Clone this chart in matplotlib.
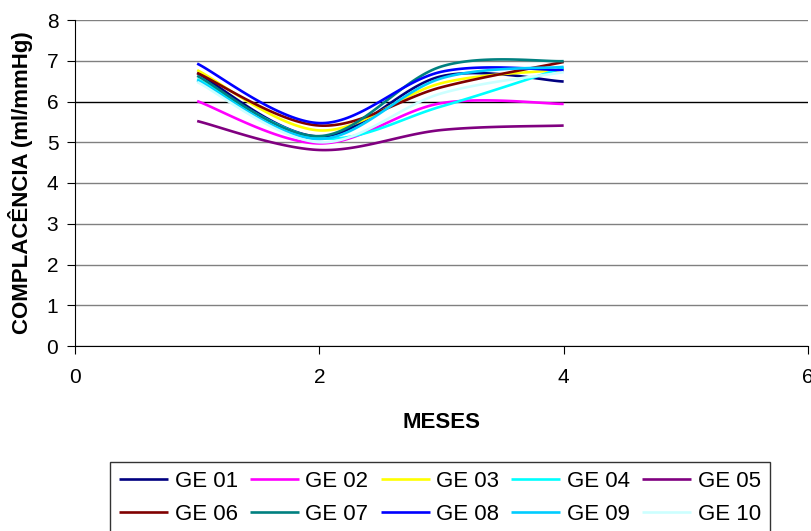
import numpy as np
import matplotlib
matplotlib.use('Agg')
import matplotlib.pyplot as plt

plt.rcParams['font.family'] = ['Liberation Sans', 'DejaVu Sans']

meses = [1, 2, 3, 4]
ge01 = [6.70, 5.14, 6.62, 6.49]
ge02 = [6.01, 4.97, 5.96, 5.94]
ge03 = [6.77, 5.29, 6.45, 6.78]
ge04 = [6.55, 5.10, 5.88, 6.83]
ge05 = [5.52, 4.81, 5.30, 5.41]
ge06 = [6.70, 5.41, 6.35, 6.97]
ge07 = [6.63, 5.15, 6.86, 6.99]
ge08 = [6.93, 5.47, 6.73, 6.77]
ge09 = [6.52, 5.08, 6.57, 6.85]
ge10 = [6.48, 5.00, 6.20, 6.72]

labels = ['GE 01', 'GE 02', 'GE 03', 'GE 04', 'GE 05',
          'GE 06', 'GE 07', 'GE 08', 'GE 09', 'GE 10']
series = [ge01, ge02, ge03, ge04, ge05, ge06, ge07, ge08, ge09, ge10]
colors = ['#000080', '#FF00FF', '#FFFF00', '#00FFFF', '#800080',
          '#800000', '#008080', '#0000FF', '#00CCFF', '#CCFFFF']


def smooth(x, y, n=40):
    # Excel-style smoothed line: Bezier segments with Catmull-Rom tangents
    p = np.column_stack([x, y]).astype(float)
    p_ext = np.vstack([p[0], p, p[-1]])
    t = np.linspace(0, 1, n)[:, None]
    out = []
    for i in range(len(p) - 1):
        p0, p1 = p_ext[i + 1], p_ext[i + 2]
        c1 = p0 + (p_ext[i + 2] - p_ext[i]) / 6
        c2 = p1 - (p_ext[i + 3] - p_ext[i + 1]) / 6
        seg = ((1 - t) ** 3 * p0 + 3 * (1 - t) ** 2 * t * c1
               + 3 * (1 - t) * t ** 2 * c2 + t ** 3 * p1)
        out.append(seg if i == 0 else seg[1:])
    out = np.vstack(out)
    return out[:, 0], out[:, 1]


fig = plt.figure(figsize=(8.12, 5.31), dpi=100)
ax = fig.add_axes([75 / 812, 1 - 346 / 531, 733 / 812, 326 / 531])

handles = []
for vals, lab, col in zip(series, labels, colors):
    sx, sy = smooth(meses, vals)
    h, = ax.plot(sx, sy, color=col, lw=1.9, label=lab, solid_capstyle='butt')
    handles.append(h)

ax.set_xlim(0, 6)
ax.set_ylim(0, 8)
ax.set_xticks([0, 2, 4, 6])
ax.set_yticks(range(9))
ax.yaxis.grid(True, color='#808080', lw=1)
ax.set_axisbelow(True)
ax.yaxis.get_gridlines()[6].set_color('black')
for s in ['top', 'right']:
    ax.spines[s].set_visible(False)
for s in ['left', 'bottom']:
    ax.spines[s].set_color('black')
ax.tick_params(axis='both', direction='out', length=6, labelsize=15,
               color='black')
ax.tick_params(axis='x', pad=10)
ax.tick_params(axis='y', pad=6)

ax.set_xlabel('MESES', fontsize=16, fontweight='bold', labelpad=18)
ax.set_ylabel('COMPLACÊNCIA (ml/mmHg)', fontsize=16, fontweight='bold',
              labelpad=10)

# legend fills row by row like the original (5 columns, 2 rows)
order = [0, 5, 1, 6, 2, 7, 3, 8, 4, 9]
leg = fig.legend([handles[i] for i in order], [labels[i] for i in order],
                 loc='upper center', bbox_to_anchor=(440 / 812, 1 - 462 / 531),
                 ncol=5, fontsize=16, frameon=True, fancybox=False,
                 edgecolor='black', handlelength=2.2, handletextpad=0.3,
                 columnspacing=0.55, borderpad=0.4, labelspacing=0.55,
                 borderaxespad=0)
leg.get_frame().set_linewidth(1)

fig.savefig('out.png', dpi=100)
